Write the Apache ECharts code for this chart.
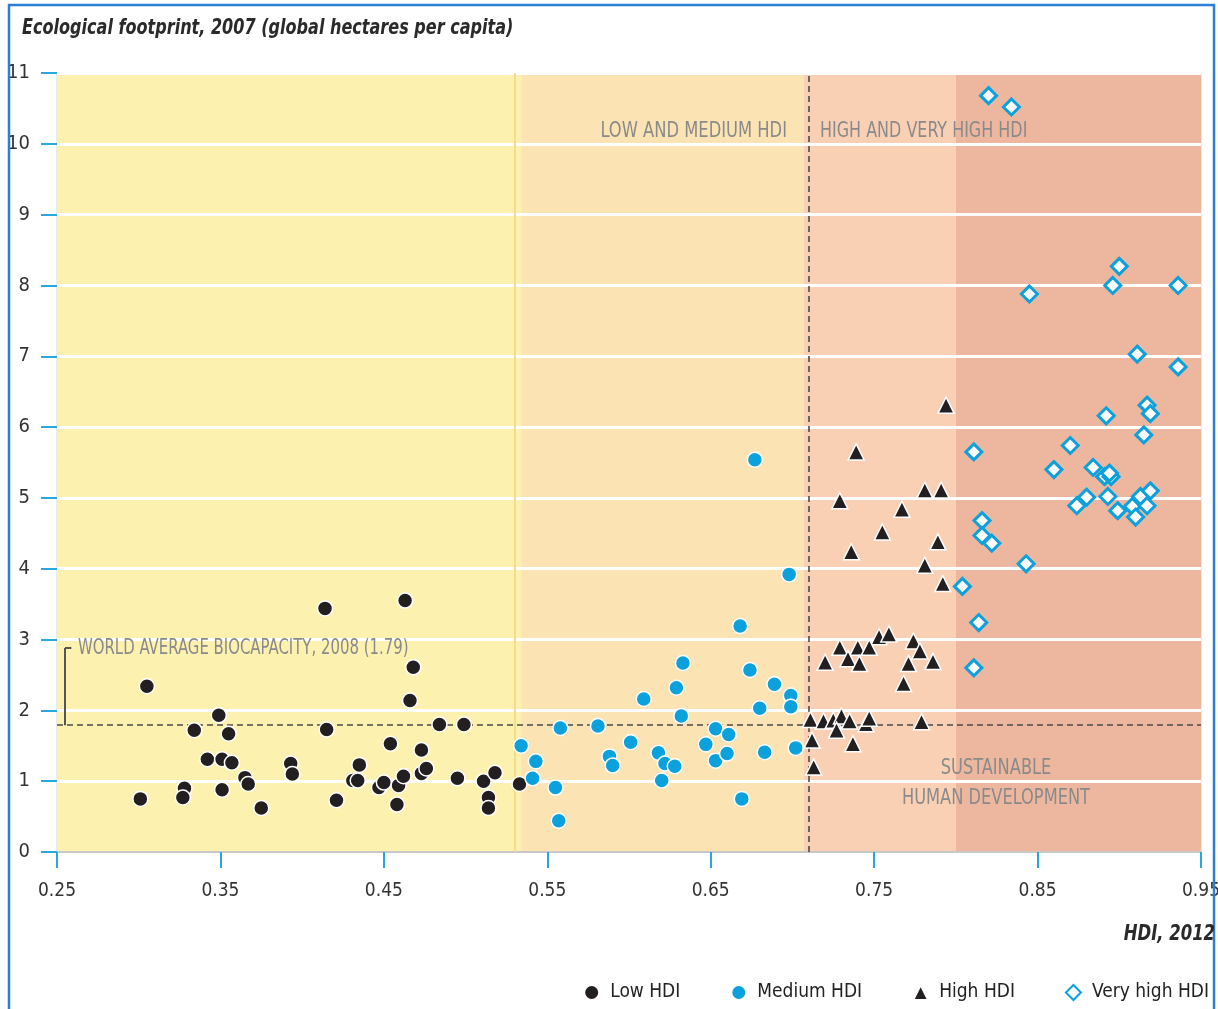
<!DOCTYPE html>
<html>
<head>
<meta charset="utf-8">
<script src="https://cdn.jsdelivr.net/npm/echarts@6/dist/echarts.min.js"></script>
<style>
html, body { margin: 0; padding: 0; background: #fff; }
#chart { width: 1218px; height: 1009px; }
</style>
</head>
<body>
<div id="chart"></div>
<script>
var FONT = '"DejaVu Sans Condensed", "Liberation Sans Narrow", sans-serif';

// HDI 2012 (x) vs ecological footprint 2007 (y)
var lowHDI = [
    [0.301,0.75],[0.305,2.34],[0.328,0.90],[0.327,0.77],[0.334,1.72],[0.342,1.31],[0.349,1.93],
    [0.351,1.31],[0.351,0.88],[0.355,1.67],[0.357,1.26],[0.365,1.05],[0.367,0.96],[0.375,0.62],
    [0.393,1.25],[0.394,1.10],[0.414,3.44],[0.415,1.73],[0.421,0.73],[0.431,1.01],[0.434,1.01],
    [0.435,1.23],[0.447,0.91],[0.450,0.98],[0.454,1.53],[0.459,0.94],[0.458,0.67],[0.462,1.07],
    [0.463,3.55],[0.468,2.61],[0.466,2.14],[0.473,1.44],[0.473,1.11],[0.476,1.18],[0.484,1.80],
    [0.495,1.04],[0.499,1.80],[0.511,1.00],[0.514,0.77],[0.514,0.62],[0.518,1.12],[0.533,0.96]
];
var mediumHDI = [
    [0.534,1.50],[0.543,1.28],[0.541,1.04],[0.558,1.75],[0.555,0.91],[0.557,0.44],[0.581,1.78],
    [0.588,1.35],[0.590,1.22],[0.601,1.55],[0.609,2.16],[0.618,1.40],[0.622,1.25],[0.628,1.21],
    [0.620,1.01],[0.629,2.32],[0.633,2.67],[0.632,1.92],[0.647,1.52],[0.653,1.74],[0.661,1.66],
    [0.653,1.29],[0.660,1.39],[0.668,3.19],[0.669,0.75],[0.674,2.57],[0.680,2.03],[0.683,1.41],
    [0.689,2.37],[0.698,3.92],[0.699,2.21],[0.699,2.05],[0.702,1.47],[0.677,5.54]
];
var highHDI = [
    [0.794,6.31],[0.739,5.65],[0.781,5.11],[0.791,5.11],[0.729,4.96],[0.767,4.84],[0.755,4.52],
    [0.789,4.38],[0.736,4.24],[0.781,4.05],[0.792,3.79],[0.753,3.04],[0.759,3.08],[0.774,2.98],
    [0.729,2.89],[0.740,2.89],[0.747,2.89],[0.778,2.84],[0.734,2.73],[0.720,2.68],[0.741,2.66],
    [0.771,2.66],[0.786,2.69],[0.768,2.38],[0.711,1.87],[0.719,1.85],[0.725,1.86],[0.730,1.92],
    [0.735,1.85],[0.727,1.72],[0.745,1.81],[0.747,1.89],[0.779,1.84],[0.712,1.58],[0.737,1.53],
    [0.713,1.20]
];
var veryHighHDI = [
    [0.820,10.68],[0.834,10.52],[0.845,7.88],[0.896,8.00],[0.900,8.27],[0.936,8.00],[0.911,7.03],
    [0.936,6.85],[0.917,6.31],[0.919,6.19],[0.892,6.16],[0.915,5.89],[0.811,5.65],[0.870,5.74],
    [0.860,5.40],[0.884,5.43],[0.891,5.30],[0.895,5.30],[0.894,5.35],[0.880,5.01],[0.874,4.89],
    [0.893,5.02],[0.899,4.82],[0.908,4.88],[0.913,5.02],[0.919,5.10],[0.917,4.89],[0.910,4.73],
    [0.816,4.68],[0.816,4.47],[0.822,4.36],[0.843,4.07],[0.804,3.75],[0.814,3.24],[0.811,2.60]
];

var seriesNames = ['Low HDI', 'Medium HDI', 'High HDI', 'Very high HDI'];
var bandEdges = [0.25, 0.534, 0.707, 0.80, 0.95];
var bandColors = ['#FDF1B0', '#FCE3B4', '#F9D0B4', '#EDB79F'];
var highThreshold = 0.707;
var biocapacity = 1.79;

var myChart = echarts.init(document.getElementById('chart'));

var bands = [];
for (var i = 0; i < bandColors.length; i++) {
    bands.push([
        { xAxis: bandEdges[i], yAxis: 0, itemStyle: { color: bandColors[i] } },
        { xAxis: bandEdges[i + 1], yAxis: 11 }
    ]);
}

function note(text, x, y, sx, align) {
    return {
        type: 'text', x: x, y: y, z: 100, scaleX: sx,
        style: { text: text, fill: '#8a8a8a', font: '21px ' + FONT, textAlign: align || 'left' }
    };
}

var option = {
    backgroundColor: '#FFF',
    animation: false,
    textStyle: { fontFamily: FONT },
    grid: {
        left: 57, right: 17, top: 73, bottom: 157,
        outerBoundsMode: 'none',
        containLabel: false,
        show: true, borderColor: '#d4d4d4', borderWidth: 1
    },
    legend: {
        data: seriesNames,
        right: 4,
        top: 978,
        itemGap: 50,
        itemWidth: 15,
        itemHeight: 15,
        textStyle: { fontSize: 19, color: '#222', fontFamily: FONT, padding: [0, 0, 0, 6] }
    },
    xAxis: {
        type: 'value',
        min: 0.25, max: 0.95, interval: 0.1,
        z: 1.2,
        splitLine: { show: false },
        axisLine: { lineStyle: { color: '#c8c8c8', width: 2 } },
        axisTick: { length: 16, lineStyle: { color: '#29a8e0', width: 2 } },
        axisLabel: {
            margin: 30, fontSize: 19, color: '#333', fontFamily: FONT,
            formatter: function (v) { return v.toFixed(2); }
        }
    },
    yAxis: {
        type: 'value',
        min: 0, max: 11, interval: 1,
        z: 1.2,
        axisLine: { show: false },
        axisTick: { show: true, length: 16, lineStyle: { color: '#29a8e0', width: 2 } },
        axisLabel: { margin: 27, fontSize: 20, color: '#333', fontFamily: FONT },
        splitLine: { lineStyle: { color: '#ffffff', width: 3 } }
    },
    graphic: [
        {
            type: 'rect', silent: true, z: 100,
            shape: { x: 9, y: 5, width: 1205, height: 1015 },
            style: { fill: 'none', stroke: '#2b80d6', lineWidth: 2.5 }
        },
        {
            type: 'text', x: 22, y: 18, z: 100, scaleX: 0.85,
            style: { text: 'Ecological footprint, 2007 (global hectares per capita)', fill: '#2a2a2a',
                     font: 'italic bold 21px ' + FONT }
        },
        {
            type: 'text', x: 1215, y: 924, z: 100, scaleX: 0.87,
            style: { text: 'HDI, 2012', fill: '#2a2a2a', font: 'italic bold 21px ' + FONT, textAlign: 'right' }
        },
        note('LOW AND MEDIUM HDI', 787, 121, 0.865, 'right'),
        note('HIGH AND VERY HIGH HDI', 820, 121, 0.845),
        note('WORLD AVERAGE BIOCAPACITY, 2008 (1.79)', 78, 638, 0.79),
        note('SUSTAINABLE', 996, 758, 0.86, 'center'),
        note('HUMAN DEVELOPMENT', 996, 788, 0.86, 'center')
    ],
    series: [
        {
            name: 'bands',
            type: 'scatter',
            data: [],
            markArea: { silent: true, data: bands },
            markLine: {
                silent: true,
                z: 1.5,
                symbol: 'none',
                label: { show: false },
                data: [
                    { xAxis: bandEdges[1], lineStyle: { color: '#F8DC8C', width: 2, type: 'solid' } },
                    { yAxis: biocapacity, lineStyle: { color: '#4a4a4a', width: 1.6, type: [6, 4] } },
                    { xAxis: highThreshold, lineStyle: { color: '#4a4a4a', width: 1.6, type: [6, 4] } },
                    [
                        { coord: [0.2549, biocapacity], lineStyle: { color: '#555', width: 2, type: 'solid' } },
                        { coord: [0.2549, 2.88] }
                    ],
                    [
                        { coord: [0.2549, 2.88], lineStyle: { color: '#555', width: 2, type: 'solid' } },
                        { coord: [0.2588, 2.88] }
                    ]
                ]
            }
        },
        {
            name: 'Low HDI',
            type: 'scatter',
            symbol: 'circle',
            symbolSize: 15,
            itemStyle: { color: '#231f20', borderColor: '#fff', borderWidth: 1.5, opacity: 1 },
            data: lowHDI
        },
        {
            name: 'Medium HDI',
            type: 'scatter',
            symbol: 'circle',
            symbolSize: 15,
            itemStyle: { color: '#0aa1dd', borderColor: '#fff', borderWidth: 1.5, opacity: 1 },
            data: mediumHDI
        },
        {
            name: 'High HDI',
            type: 'scatter',
            symbol: 'triangle',
            symbolSize: 16,
            itemStyle: { color: '#231f20', borderColor: '#fff', borderWidth: 1.5, opacity: 1 },
            data: highHDI
        },
        {
            name: 'Very high HDI',
            type: 'scatter',
            symbol: 'diamond',
            symbolSize: 16,
            itemStyle: { color: '#ffffff', borderColor: '#0aa1dd', borderWidth: 3, opacity: 1 },
            data: veryHighHDI
        }
    ]
};

myChart.setOption(option);
</script>
</body>
</html>
